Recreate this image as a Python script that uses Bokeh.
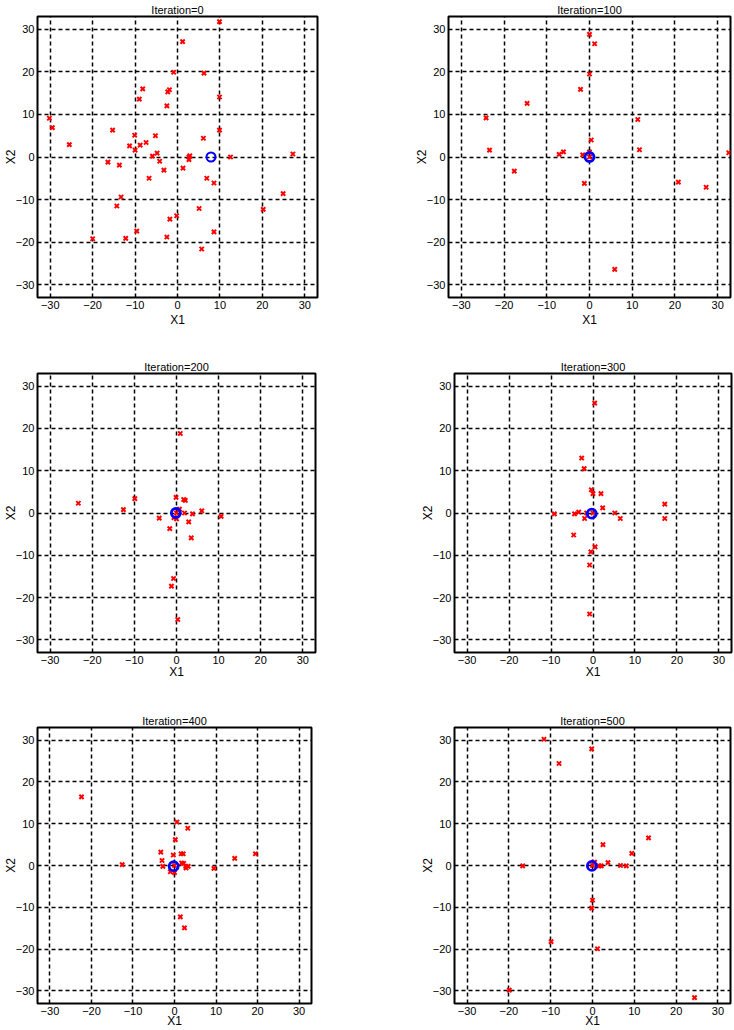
from bokeh.plotting import figure
from bokeh.layouts import column, row
from bokeh.models import Range1d, FixedTicker
from bokeh.embed import file_html
from bokeh.resources import INLINE

# ---------------- data ----------------
iterations = [0, 100, 200, 300, 400, 500]
tick_values = [-30, -20, -10, 0, 10, 20, 30]
axis_min, axis_max = -33, 33

particles_x_0 = [9.9, 1.2, -0.9, 6.25, -8.2, -1.9, -2.3, -9.0, 9.9, -2.5,
                 -30.2, -29.5, -15.3, 9.9, 6.1, -10.1, -5.2, -7.4, -11.3, -8.8,
                 -25.5, -10.0, -4.8, -5.9, 2.9, 2.7, 2.7, 12.5, 27.2, -16.4,
                 -4.2, -13.7, 1.3, -3.2, -6.7, 6.9, 8.6, 24.9, -13.3, -14.3,
                 5.1, 20.2, -0.2, -1.8, -9.6, 8.6, -20.0, -12.2, -2.5, 5.7]
particles_y_0 = [31.8, 27.1, 19.9, 19.7, 16.0, 15.8, 15.3, 13.6, 14.1, 12.0,
                 9.1, 6.9, 6.3, 6.3, 4.4, 5.1, 5.0, 3.4, 2.6, 2.8,
                 2.9, 1.6, 0.9, 0.2, 0.3, 0.0, -0.6, 0.0, 0.7, -1.2,
                 -1.0, -1.9, -2.6, -3.1, -5.0, -5.0, -6.1, -8.6, -9.4, -11.5,
                 -12.1, -12.3, -13.8, -14.6, -17.4, -17.6, -19.2, -19.1, -18.8, -21.6]

particles_x_100 = [0, 1.2, 0, -2.1, -14.6, -24.2, 11.3, 0.4, -23.4, -6.1, -7.1,
                   -1.6, 0, 11.7, 32.6, 0, -17.6, -1.2, 20.8, 27.3, 5.9]
particles_y_100 = [28.8, 26.6, 19.5, 15.9, 12.6, 9.2, 8.8, 4.0, 1.6, 1.2, 0.6,
                   0.5, 1.2, 1.7, 1.0, 0, -3.3, -6.2, -5.9, -7.1, -26.4]

particles_x_200 = [0.9, -23.3, -12.6, -9.9, -0.1, 1.7, 2.1, 0.7, 1.9, 6.0, 3.8,
                   10.6, -4.1, -0.6, 0, 2.9, -1.6, 3.5, -0.7, -1.2, 0.3, 0]
particles_y_200 = [18.8, 2.3, 0.8, 3.4, 3.7, 3.2, 3.0, 0.9, 0, 0.5, -0.2,
                   -0.8, -1.2, -1.1, -1.4, -2.1, -3.7, -5.9, -15.5, -17.3, -25.2, 0]

particles_x_300 = [0.4, -2.7, -2.1, -0.4, 0, 1.9, 2.3, 17.1, 17.1, -9.2, -4.4,
                   -3.4, -2.0, -1.5, 5.2, 6.5, -4.6, 0.5, -0.5, -0.8, -0.8, 0]
particles_y_300 = [26.0, 13.0, 10.5, 5.5, 4.6, 4.6, 1.2, 2.1, -1.3, -0.2, -0.2,
                   0.2, -1.3, 0, 0, -1.3, -5.2, -8.0, -9.2, -12.3, -23.9, 0]

particles_x_400 = [-22.4, 0.6, 3.2, 0.2, -3.3, -0.3, 1.6, 2.1, -3.0, -12.6, -2.8,
                   1.7, 2.2, 2.7, 3.3, 2.8, -1.0, 0, 9.5, 14.5, 19.5, 1.4, 2.4, 0]
particles_y_400 = [16.4, 10.4, 8.9, 6.2, 3.2, 2.5, 2.8, 2.8, 1.2, 0.2, -0.2,
                   0.6, 0.5, -0.2, -0.2, -0.6, -1.5, -1.7, -0.7, 1.7, 2.8, -12.3, -14.9, 0]

particles_x_500 = [-11.6, -0.2, -8.0, 13.4, 2.5, 9.4, 3.7, 0.5, 1.6, 2.1, 6.7,
                   8.1, -16.7, 0, -0.2, -9.9, 1.2, -19.9, 24.4, 0]
particles_y_500 = [30.2, 27.9, 24.4, 6.6, 5.0, 2.9, 0.7, 0.8, -0.1, -0.1, 0,
                   -0.1, -0.1, -8.3, -10.2, -18.2, -19.9, -29.8, -31.6, 0]

best_x = [7.9, 0.0, -0.15, -0.3, -0.2, -0.15]
best_y = [0.0, 0.0, 0.0, -0.15, -0.15, -0.1]

particles_x = [particles_x_0, particles_x_100, particles_x_200,
               particles_x_300, particles_x_400, particles_x_500]
particles_y = [particles_y_0, particles_y_100, particles_y_200,
               particles_y_300, particles_y_400, particles_y_500]

# ---------------- layout (width, height, left, right, top, bottom, x-label standoff) ----------------
geom = [
    (367, 338, 34, 50, 15, 41, 1),
    (367, 338, 81, 4, 15, 41, 1),
    (367, 352, 35, 52, 34, 38, -2),
    (367, 352, 87, 3, 35, 38, -2),
    (367, 340, 33, 56, 37, 27, -4),
    (367, 340, 87, 4, 34, 27, -4),
]

FONT = "Liberation Sans"


def make_panel(i):
    w, h, bl, br, bt, bb, xls = geom[i]
    p = figure(width=w, height=h, output_backend="svg", toolbar_location=None,
               x_range=Range1d(axis_min, axis_max), y_range=Range1d(axis_min, axis_max),
               min_border_left=bl, min_border_right=br,
               min_border_top=bt, min_border_bottom=bb,
               title="Iteration=%d" % iterations[i])
    p.title.align = "center"
    p.title.text_font = FONT
    p.title.text_font_size = "11px"
    p.title.text_font_style = "normal"
    p.title.text_color = "black"
    p.title.standoff = 2
    p.title.offset = 0

    p.outline_line_color = "black"
    p.outline_line_width = 2
    p.outline_line_alpha = 1
    p.background_fill_color = "white"
    p.border_fill_color = "white"

    for ax in (p.xaxis, p.yaxis):
        ax.ticker = FixedTicker(ticks=tick_values)
        ax.axis_line_color = None
        ax.major_tick_line_color = None
        ax.minor_tick_line_color = None
        ax.major_tick_out = 0
        ax.major_tick_in = 0
        ax.minor_tick_out = 0
        ax.minor_tick_in = 0
        ax.major_label_text_font = FONT
        ax.major_label_text_font_size = "11px"
        ax.major_label_text_color = "black"
        ax.major_label_standoff = 3
        ax.axis_label_text_font = FONT
        ax.axis_label_text_font_size = "12px"
        ax.axis_label_text_font_style = "normal"
        ax.axis_label_text_color = "black"
    p.xaxis.axis_label_standoff = xls
    p.yaxis.axis_label_standoff = -5
    p.xaxis.axis_label = "X1"
    p.yaxis.axis_label = "X2"
    p.yaxis.major_label_orientation = "horizontal"

    for g in (p.xgrid, p.ygrid):
        g.ticker = FixedTicker(ticks=tick_values)
        g.grid_line_color = "black"
        g.grid_line_dash = "4 3"
        g.grid_line_width = 1.5
        g.grid_line_alpha = 1

    p.scatter(particles_x[i], particles_y[i], marker="x", size=6,
              line_color="#ff0000", line_width=2)
    lw = 2 if i == 0 else 2.8
    p.scatter([best_x[i]], [best_y[i]], marker="circle", size=9,
              fill_color=None, line_color="#0000ff", line_width=lw)
    return p


panels = [make_panel(i) for i in range(6)]
layout = column(row(panels[0], panels[1]), row(panels[2], panels[3]),
                row(panels[4], panels[5]))

open("out.html", "w").write(file_html(layout, INLINE))
